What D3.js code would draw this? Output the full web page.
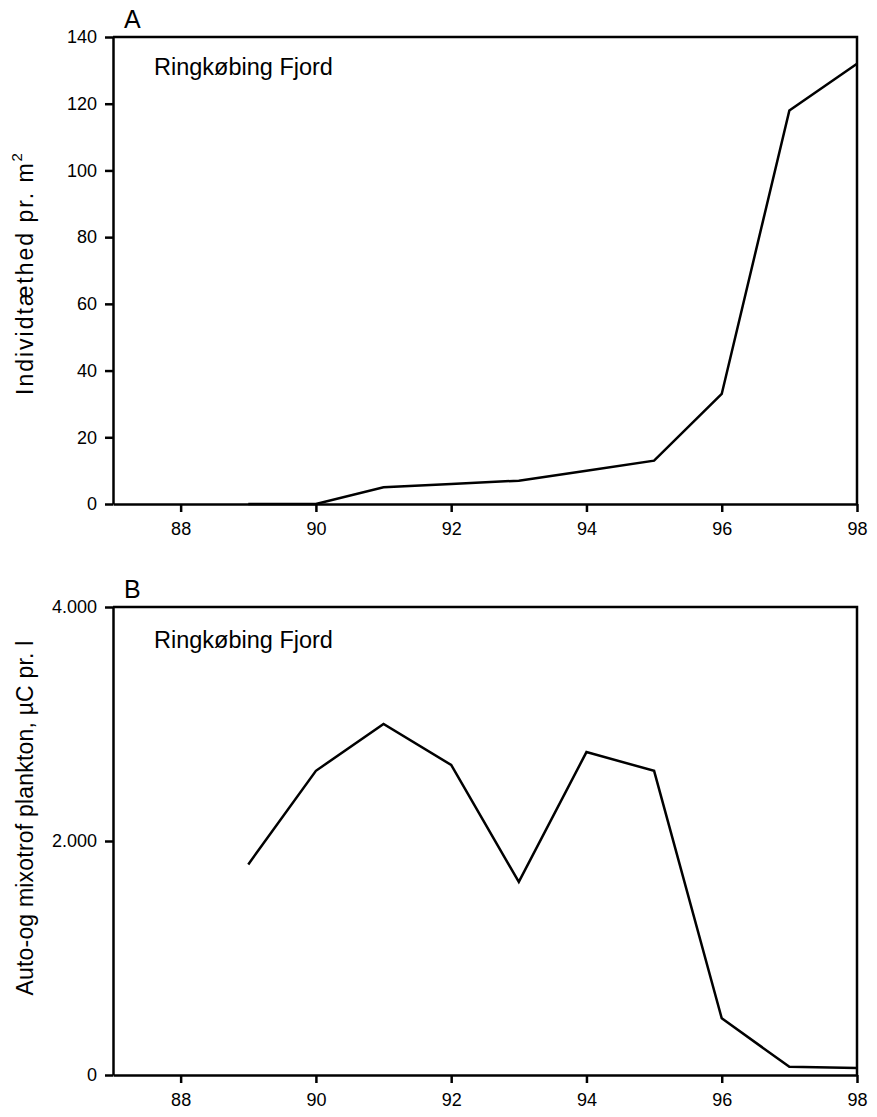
<!DOCTYPE html>
<html>
<head>
<meta charset="utf-8">
<script src="https://cdn.jsdelivr.net/npm/d3@7/dist/d3.min.js"></script>
<style>
  html, body { margin: 0; padding: 0; background: #fff; }
  svg { display: block; }
  text { font-family: "Liberation Sans", Arial, Helvetica, sans-serif; fill: #000; }
</style>
</head>
<body>
<svg id="chart" width="877" height="1117"></svg>
<script>
// Years on the x axis (two-digit)
const years = [89, 90, 91, 92, 93, 94, 95, 96, 97, 98];
const xTicks = [88, 90, 92, 94, 96, 98];

// Panel A: individual density per m²
const densityValues = [0, 0, 5, 6, 7, 10, 13, 33, 118, 132];
const densityTicks = [0, 20, 40, 60, 80, 100, 120, 140];

// Panel B: auto- and mixotrophic plankton, µg C per litre
const planktonValues = [1800, 2600, 3000, 2650, 1650, 2760, 2600, 485, 70, 60];
const planktonTicks = [0, 2000, 4000];

const svg = d3.select("#chart");
const left = 113, right = 857;
const daLocale = d3.formatLocale({ decimal: ",", thousands: ".", grouping: [3], currency: ["", ""] });
const fmtThousands = daLocale.format(",d");

const x = d3.scaleLinear().domain([87, 98]).range([left, right]);

function panel(opts) {
  const g = svg.append("g");
  const y = d3.scaleLinear().domain(opts.yDomain).range([opts.bottom, opts.top]);

  // frame: top and right edges
  g.append("path")
    .attr("d", `M${left},${opts.top}H${right}V${opts.bottom}`)
    .attr("fill", "none").attr("stroke", "#000").attr("stroke-width", 2.5);

  const xAxis = g.append("g")
    .attr("transform", `translate(0,${opts.bottom})`)
    .call(d3.axisBottom(x).tickValues(xTicks).tickSize(8).tickPadding(6).tickSizeOuter(0));
  const yAxis = g.append("g")
    .attr("transform", `translate(${left},0)`)
    .call(d3.axisLeft(y).tickValues(opts.yTicks).tickSize(8).tickPadding(8).tickSizeOuter(0)
      .tickFormat(opts.yFormat));

  [xAxis, yAxis].forEach(a => {
    a.select(".domain").attr("stroke-width", 2.5);
    a.selectAll(".tick line").attr("stroke-width", 2.5);
    a.selectAll(".tick text")
      .attr("font-family", "Liberation Sans, Arial, sans-serif")
      .attr("font-size", 18);
  });
  xAxis.selectAll(".tick text").attr("dy", "0.92em");

  const line = d3.line().x((d, i) => x(years[i])).y(d => y(d));
  g.append("path")
    .datum(opts.values)
    .attr("d", line)
    .attr("fill", "none").attr("stroke", "#000")
    .attr("stroke-width", 2.5).attr("stroke-linejoin", "miter");

  g.append("text")
    .attr("x", 124).attr("y", opts.top - 9)
    .attr("font-size", 25)
    .text(opts.letter);

  g.append("text")
    .attr("x", 154).attr("y", opts.top + opts.nameOffset)
    .attr("font-size", 23.5)
    .text("Ringkøbing Fjord");

  const title = g.append("text")
    .attr("transform", `translate(33,${opts.titleY}) rotate(-90)`)
    .attr("text-anchor", "middle")
    .attr("font-size", opts.titleSize)
    .attr("letter-spacing", opts.titleSpacing);
  opts.title(title);
}

panel({
  letter: "A",
  top: 37, bottom: 504,
  yDomain: [0, 140], yTicks: densityTicks, yFormat: d3.format("d"),
  values: densityValues,
  nameOffset: 38,
  titleY: 273, titleSize: 23, titleSpacing: 2,
  title: t => {
    t.append("tspan").text("Individtæthed pr. m");
    t.append("tspan").attr("font-size", 15).attr("dy", "-0.75em").text("2");
  }
});

panel({
  letter: "B",
  top: 607, bottom: 1075,
  yDomain: [0, 4000], yTicks: planktonTicks, yFormat: fmtThousands,
  values: planktonValues,
  nameOffset: 41,
  titleY: 818, titleSize: 23, titleSpacing: 0.2,
  title: t => t.text("Auto-og mixotrof plankton, µC pr. l")
});
</script>
</body>
</html>
